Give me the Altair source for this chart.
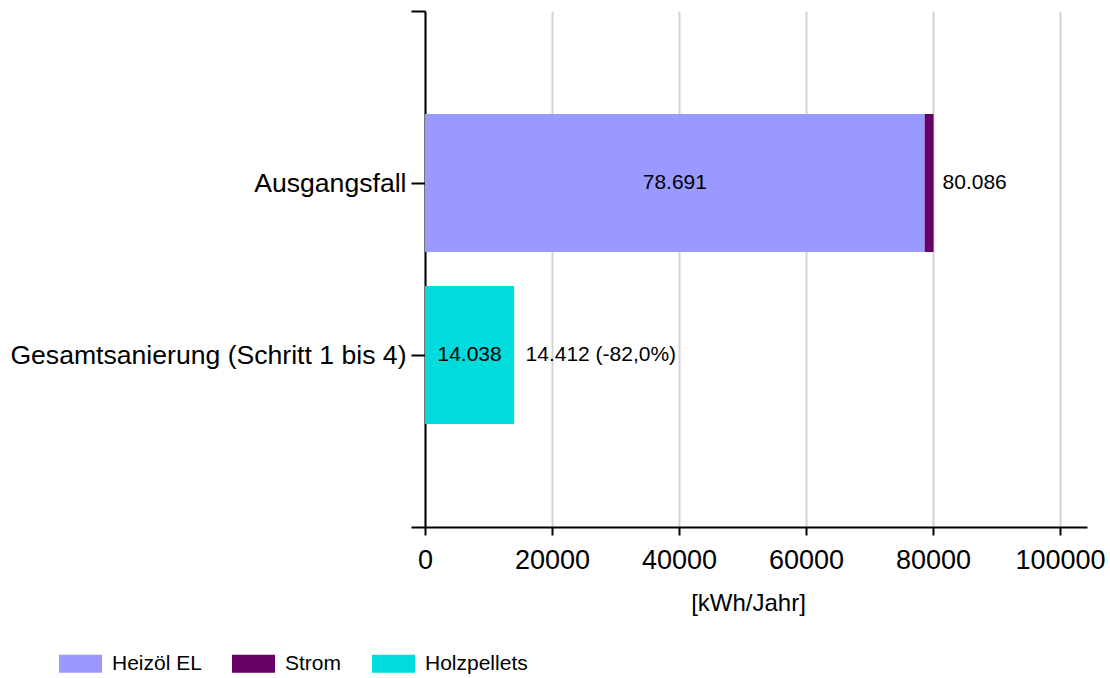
import altair as alt
import pandas as pd

# Szenarien (Zeilen) und Energieträger (Farben)
szenarien = ["Ausgangsfall", "Gesamtsanierung (Schritt 1 bis 4)"]
traeger = ["Heizöl EL", "Strom", "Holzpellets"]
farben = ["#9999FF", "#660066", "#00DCDC"]

# Balkensegmente: Endenergiebedarf je Szenario und Energieträger [kWh/Jahr]
seg_szenario = ["Ausgangsfall", "Ausgangsfall", "Gesamtsanierung (Schritt 1 bis 4)"]
seg_traeger = ["Heizöl EL", "Strom", "Holzpellets"]
seg_wert = [78691, 1395, 14038]
seg_beschriftet = [True, False, True]

# Summen je Szenario [kWh/Jahr]
summen = [80086, 14412]

# Achsenteilung
x_ticks = [0, 20000, 40000, 60000, 80000, 100000]
x_max = 104250
# leere Randpositionen oberhalb/unterhalb der beiden Szenarien
y_domain = ["_oben"] + szenarien + ["_unten"]


def de(zahl):
    return f"{zahl:,}".replace(",", ".")


def de_prozent(p):
    return f"{p:.1f}".replace(".", ",") + "%"


seg = pd.DataFrame({"Szenario": seg_szenario, "Energietraeger": seg_traeger, "Wert": seg_wert})
seg["Reihenfolge"] = seg["Energietraeger"].map(traeger.index)
seg["Start"] = seg.groupby("Szenario")["Wert"].cumsum() - seg["Wert"]
seg["Mitte"] = seg["Start"] + seg["Wert"] / 2
seg["Text"] = seg["Wert"].map(de)
innen = seg[seg_beschriftet].reset_index(drop=True)

basis = summen[0]
summen_text = []
for i, s in enumerate(summen):
    if i == 0:
        summen_text.append(de(s))
    else:
        summen_text.append(f"{de(s)} ({de_prozent((s / basis - 1) * 100)})")
ges = pd.DataFrame({"Szenario": szenarien, "Summe": summen, "Text": summen_text})

y_scale = alt.Scale(type="point", domain=y_domain, padding=0)
y_enc = alt.Y(
    "Szenario:N",
    scale=y_scale,
    axis=alt.Axis(
        title=None,
        labelExpr="slice(datum.value, 0, 1) == '_' ? '' : datum.value",
        labelFontSize=26.6,
        labelPadding=5,
        labelLimit=1000,
        labelColor="black",
        tickSize=14,
        tickWidth=2,
        tickColor="black",
        domainWidth=2,
        domainColor="black",
        grid=False,
    ),
)

x_scale = alt.Scale(domain=[0, x_max], nice=False, zero=True)
x_axis = alt.Axis(
    values=x_ticks,
    format="d",
    labelFlush=False,
    labelOverlap=False,
    labelFontSize=27,
    labelColor="black",
    labelBaseline="alphabetic",
    labelPadding=33,
    tickSize=8,
    tickWidth=2,
    tickColor="black",
    domainWidth=2,
    domainColor="black",
    grid=True,
    gridColor="#d3d3d3",
    gridWidth=2,
    title="[kWh/Jahr]",
    titleFontSize=24,
    titleFontWeight="normal",
    titleColor="black",
    titleX=323,
    titleY=83,
    titleAlign="center",
    titleBaseline="alphabetic",
)

balken = (
    alt.Chart(seg)
    .mark_bar(size=138)
    .encode(
        x=alt.X("Wert:Q", stack="zero", scale=x_scale, axis=x_axis),
        y=y_enc,
        order=alt.Order("Reihenfolge:Q"),
        color=alt.Color(
            "Energietraeger:N",
            scale=alt.Scale(domain=traeger, range=farben),
            legend=alt.Legend(
                title=None,
                orient="none",
                legendX=-366,
                legendY=631,
                direction="horizontal",
                symbolType="M-1,-0.42L1,-0.42L1,0.42L-1,0.42Z",
                symbolSize=1849,
                symbolStrokeWidth=0,
                symbolOpacity=1,
                labelFontSize=21,
                labelColor="black",
                labelOffset=10,
                columnPadding=30,
                padding=0,
            ),
        ),
    )
)

wert_innen = (
    alt.Chart(innen)
    .mark_text(fontSize=21, align="center", baseline="middle", color="black")
    .encode(
        x=alt.X("Mitte:Q", scale=x_scale),
        y=alt.Y("Szenario:N", scale=y_scale),
        text="Text:N",
    )
)

wert_summe = (
    alt.Chart(ges)
    .mark_text(fontSize=21, align="left", baseline="middle", dx=9, color="black")
    .encode(
        x=alt.X("Summe:Q", scale=x_scale),
        y=alt.Y("Szenario:N", scale=y_scale),
        text="Text:N",
    )
)

chart = (
    alt.layer(balken, wert_innen, wert_summe)
    .properties(
        width=662,
        height=516,
        padding={"left": 425, "top": 11, "right": 23, "bottom": 151},
        autosize=alt.AutoSizeParams(type="none"),
        background="white",
    )
    .configure(font="Liberation Sans")
    .configure_view(stroke=None)
)

chart.save("out.html", embed_options={"renderer": "svg", "actions": False})
